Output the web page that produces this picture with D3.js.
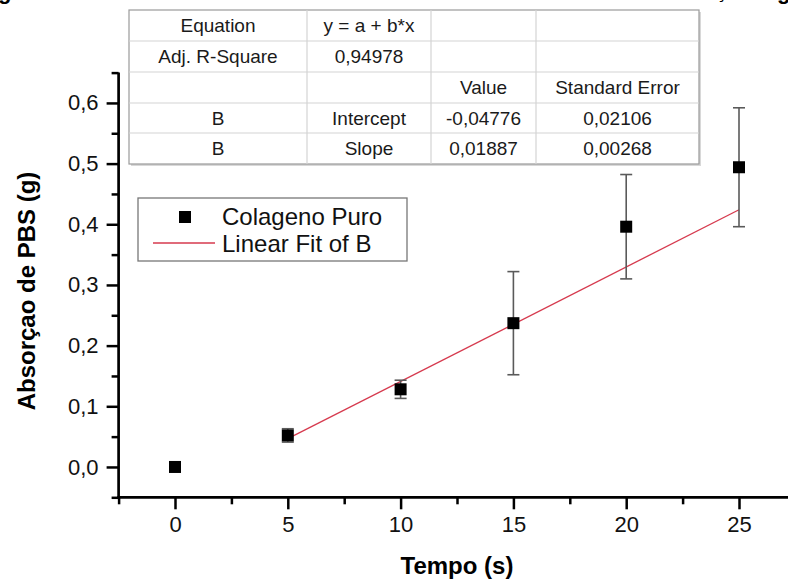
<!DOCTYPE html>
<html><head><meta charset="utf-8">
<script src="https://cdn.jsdelivr.net/npm/d3@7"></script>
<style>html,body{margin:0;padding:0;background:#fff;overflow:hidden}svg{display:block}</style>
</head><body>
<script>
// ---- data ----
const times = [0, 5, 10, 15, 20, 25];
const absorption = [0.0, 0.052, 0.128, 0.237, 0.396, 0.494];
const stdErrors = [0.0, 0.011, 0.015, 0.085, 0.086, 0.098];
const fitIntercept = -0.04776;
const fitSlope = 0.01887;
const fitRange = [5, 25];
const xTicks = [0, 5, 10, 15, 20, 25];
const yTicks = [0.0, 0.1, 0.2, 0.3, 0.4, 0.5, 0.6];
const tableRows = [
  ["Equation", "y = a + b*x", "", ""],
  ["Adj. R-Square", "0,94978", "", ""],
  ["", "", "Value", "Standard Error"],
  ["B", "Intercept", "-0,04776", "0,02106"],
  ["B", "Slope", "0,01887", "0,00268"]
];
const legendLabels = ["Colageno Puro", "Linear Fit of B"];
const xTitle = "Tempo (s)";
const yTitle = "Absorçao de PBS (g)";

const W = 788, H = 581;
const svg = d3.select("body").append("svg").attr("width", W).attr("height", H);
const font = "Liberation Sans, Arial, sans-serif";
const fmt = d => d3.format(".1f")(d).replace(".", ",");

const x = d3.scaleLinear().domain([-2.5, 27.5]).range([118.6, 795.4]);
const y = d3.scaleLinear().domain([-0.05, 0.65]).range([497.3, 72.6]);

// cropped caption fragments at top (the reference figure is cut here)
svg.append("text").attr("x", -2).attr("y", -1).attr("font-family", font).attr("font-weight", "bold").attr("font-size", 22).text("g");
svg.append("text").attr("x", 716).attr("y", -2).attr("font-family", font).attr("font-size", 20).text("ç");
svg.append("text").attr("x", 777).attr("y", -1).attr("font-family", font).attr("font-weight", "bold").attr("font-size", 22).text("g");

// axes
const xAxis = d3.axisBottom(x).tickValues(xTicks).tickSize(12).tickPadding(7).tickFormat(d3.format("d"));
const xMinor = d3.axisBottom(x).tickValues(d3.range(-2.5, 28, 5)).tickSize(7).tickFormat("");
const yAxis = d3.axisLeft(y).tickValues(yTicks).tickSize(12).tickPadding(8).tickFormat(fmt);
const yMinor = d3.axisLeft(y).tickValues(d3.range(-0.05, 0.66, 0.1)).tickSize(7).tickFormat("");

function styleAxis(g) {
  g.select(".domain").attr("stroke", "#000").attr("stroke-width", 2.7);
  g.selectAll(".tick line").attr("stroke", "#000").attr("stroke-width", 2.5);
  g.selectAll(".tick text").attr("font-family", font).attr("font-size", 22).attr("fill", "#111");
}
const gx = svg.append("g").attr("transform", `translate(0,${y(-0.05)})`).call(xAxis).call(styleAxis);
gx.select(".domain").attr("d", `M${x(-2.5) - 1.3},0H${W + 10}`);
const gxm = svg.append("g").attr("transform", `translate(0,${y(-0.05)})`).call(xMinor).call(styleAxis);
gxm.select(".domain").remove();
const gy = svg.append("g").attr("transform", `translate(${x(-2.5)},0)`).call(yAxis).call(styleAxis);
gy.select(".domain").attr("d", `M0,${y(0.65)}V${y(-0.05)}`);
const gym = svg.append("g").attr("transform", `translate(${x(-2.5)},0)`).call(yMinor).call(styleAxis);
gym.select(".domain").remove();

// titles
svg.append("text").attr("x", x(12.5)).attr("y", 574).attr("text-anchor", "middle")
  .attr("font-family", font).attr("font-weight", "bold").attr("font-size", 24).text(xTitle);
svg.append("text").attr("transform", `translate(35,${y(0.29)}) rotate(-90)`).attr("text-anchor", "middle")
  .attr("font-family", font).attr("font-weight", "bold").attr("font-size", 24).text(yTitle);

// fit line
svg.append("line")
  .attr("x1", x(fitRange[0])).attr("y1", y(fitIntercept + fitSlope * fitRange[0]))
  .attr("x2", x(fitRange[1])).attr("y2", y(fitIntercept + fitSlope * fitRange[1]))
  .attr("stroke", "#d63a4e").attr("stroke-width", 1.3);

// error bars
const pts = times.map((t, i) => ({t, v: absorption[i], e: stdErrors[i]}));
const eb = svg.append("g").attr("stroke", "#5a5a5a").attr("stroke-width", 1.6);
pts.filter(d => d.e > 0).forEach(d => {
  eb.append("line").attr("x1", x(d.t)).attr("x2", x(d.t)).attr("y1", y(d.v - d.e)).attr("y2", y(d.v + d.e));
  eb.append("line").attr("x1", x(d.t) - 6).attr("x2", x(d.t) + 6).attr("y1", y(d.v - d.e)).attr("y2", y(d.v - d.e));
  eb.append("line").attr("x1", x(d.t) - 6).attr("x2", x(d.t) + 6).attr("y1", y(d.v + d.e)).attr("y2", y(d.v + d.e));
});
// markers
const ms = 12;
svg.append("g").selectAll("rect").data(pts).join("rect")
  .attr("x", d => x(d.t) - ms / 2).attr("y", d => y(d.v) - ms / 2)
  .attr("width", ms).attr("height", ms).attr("fill", "#000");

// legend
const lg = svg.append("g");
lg.append("rect").attr("x", 138).attr("y", 198).attr("width", 269).attr("height", 63)
  .attr("fill", "#fff").attr("stroke", "#777").attr("stroke-width", 1.3);
lg.append("rect").attr("x", 179).attr("y", 211).attr("width", 12).attr("height", 12).attr("fill", "#000");
lg.append("line").attr("x1", 153).attr("x2", 215).attr("y1", 243).attr("y2", 243).attr("stroke", "#d63a4e").attr("stroke-width", 1.3);
lg.selectAll("text").data(legendLabels).join("text")
  .attr("x", 222).attr("y", (d, i) => 225 + i * 27)
  .attr("font-family", font).attr("font-size", 24).attr("fill", "#111").text(d => d);

// table
const colX = [129, 307, 431, 536, 699];
const rowY = [10, 41, 72, 103, 133, 164];
const tg = svg.append("g");
tg.append("rect").attr("x", colX[0] + 2).attr("y", rowY[0] + 2).attr("width", colX[4] - colX[0]).attr("height", rowY[5] - rowY[0])
  .attr("fill", "#d8d8d8");
tg.append("rect").attr("x", colX[0]).attr("y", rowY[0]).attr("width", colX[4] - colX[0]).attr("height", rowY[5] - rowY[0])
  .attr("fill", "#fff").attr("stroke", "#9a9a9a").attr("stroke-width", 1.2);
rowY.slice(1, 5).forEach(ry => tg.append("line").attr("x1", colX[0]).attr("x2", colX[4]).attr("y1", ry).attr("y2", ry).attr("stroke", "#d4d4d4").attr("stroke-width", 1.2));
colX.slice(1, 4).forEach(cx => tg.append("line").attr("x1", cx).attr("x2", cx).attr("y1", rowY[0]).attr("y2", rowY[5]).attr("stroke", "#d4d4d4").attr("stroke-width", 1.2));
tableRows.forEach((row, ri) => row.forEach((cell, ci) => {
  if (!cell) return;
  tg.append("text").attr("x", (colX[ci] + colX[ci + 1]) / 2).attr("y", (rowY[ri] + rowY[ri + 1]) / 2 + 6.5)
    .attr("text-anchor", "middle").attr("font-family", font).attr("font-size", 19).attr("fill", "#1a1a1a").text(cell);
}));
</script>
</body></html>
